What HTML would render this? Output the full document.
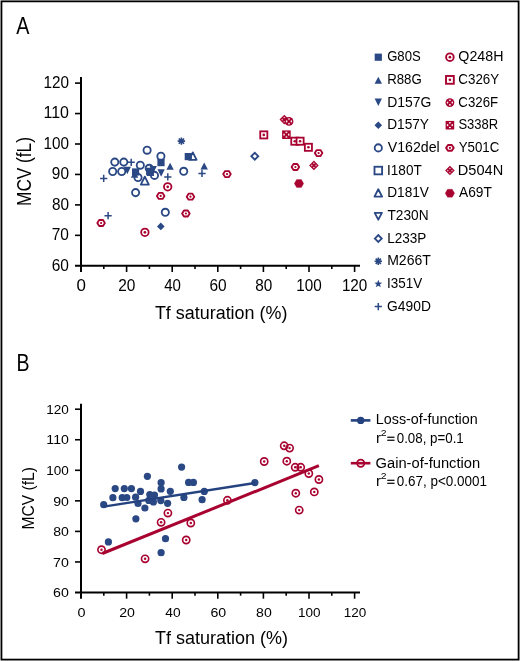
<!DOCTYPE html>
<html><head><meta charset="utf-8"><style>html,body{margin:0;padding:0;background:#fff;overflow:hidden;}svg{display:block;will-change:transform;}</style></head>
<body><svg width="520" height="661" viewBox="0 0 520 661" font-family="'Liberation Sans', sans-serif">
<rect width="520" height="661" fill="#fff"/>
<rect x="1.45" y="1.35" width="517.15" height="658.25" fill="none" stroke="#000" stroke-width="1.8"/>
<text x="16.16" y="33.90" font-size="23.4" textLength="13.18" lengthAdjust="spacingAndGlyphs" fill="#000">A</text>
<text x="16.50" y="370.70" font-size="23.9" textLength="13.03" lengthAdjust="spacingAndGlyphs" fill="#000">B</text>
<path d="M81,77.10V272.10" stroke="#000" stroke-width="2" fill="none"/><path d="M75,265.80H360" stroke="#000" stroke-width="2" fill="none"/><path d="M75,83.10H81" stroke="#000" stroke-width="1.6"/><text x="43.49" y="88.00" font-size="16.1" textLength="25.46" lengthAdjust="spacingAndGlyphs" fill="#000">120</text><path d="M75,113.55H81" stroke="#000" stroke-width="1.6"/><text x="43.49" y="118.45" font-size="16.1" textLength="25.46" lengthAdjust="spacingAndGlyphs" fill="#000">110</text><path d="M75,144.00H81" stroke="#000" stroke-width="1.6"/><text x="43.49" y="148.90" font-size="16.1" textLength="25.46" lengthAdjust="spacingAndGlyphs" fill="#000">100</text><path d="M75,174.45H81" stroke="#000" stroke-width="1.6"/><text x="51.83" y="179.35" font-size="16.1" textLength="17.12" lengthAdjust="spacingAndGlyphs" fill="#000">90</text><path d="M75,204.90H81" stroke="#000" stroke-width="1.6"/><text x="51.88" y="209.80" font-size="16.1" textLength="17.07" lengthAdjust="spacingAndGlyphs" fill="#000">80</text><path d="M75,235.35H81" stroke="#000" stroke-width="1.6"/><text x="51.76" y="240.25" font-size="16.1" textLength="17.20" lengthAdjust="spacingAndGlyphs" fill="#000">70</text><text x="51.77" y="270.70" font-size="16.1" textLength="17.19" lengthAdjust="spacingAndGlyphs" fill="#000">60</text><text x="76.59" y="291.40" font-size="16.1" textLength="9.42" lengthAdjust="spacingAndGlyphs" fill="#000">0</text><path d="M103.80,265.80V269.00" stroke="#000" stroke-width="1.6"/><path d="M126.60,265.80V272.00" stroke="#000" stroke-width="1.6"/><text x="118.22" y="291.40" font-size="16.1" textLength="17.18" lengthAdjust="spacingAndGlyphs" fill="#000">20</text><path d="M149.40,265.80V269.00" stroke="#000" stroke-width="1.6"/><path d="M172.20,265.80V272.00" stroke="#000" stroke-width="1.6"/><text x="164.25" y="291.40" font-size="16.1" textLength="16.73" lengthAdjust="spacingAndGlyphs" fill="#000">40</text><path d="M195.00,265.80V269.00" stroke="#000" stroke-width="1.6"/><path d="M217.80,265.80V272.00" stroke="#000" stroke-width="1.6"/><text x="209.42" y="291.40" font-size="16.1" textLength="17.19" lengthAdjust="spacingAndGlyphs" fill="#000">60</text><path d="M240.60,265.80V269.00" stroke="#000" stroke-width="1.6"/><path d="M263.40,265.80V272.00" stroke="#000" stroke-width="1.6"/><text x="255.13" y="291.40" font-size="16.1" textLength="17.07" lengthAdjust="spacingAndGlyphs" fill="#000">80</text><path d="M286.20,265.80V269.00" stroke="#000" stroke-width="1.6"/><path d="M309.00,265.80V272.00" stroke="#000" stroke-width="1.6"/><text x="296.29" y="291.40" font-size="16.1" textLength="25.46" lengthAdjust="spacingAndGlyphs" fill="#000">100</text><path d="M331.80,265.80V269.00" stroke="#000" stroke-width="1.6"/><path d="M354.60,265.80V272.00" stroke="#000" stroke-width="1.6"/><text x="341.89" y="291.40" font-size="16.1" textLength="25.46" lengthAdjust="spacingAndGlyphs" fill="#000">120</text>
<path d="M81,403.70V598.80" stroke="#000" stroke-width="2" fill="none"/><path d="M75,592.50H360" stroke="#000" stroke-width="2" fill="none"/><path d="M75,409.20H81" stroke="#000" stroke-width="1.6"/><text x="46.32" y="413.90" font-size="13.5" textLength="22.56" lengthAdjust="spacingAndGlyphs" fill="#000">120</text><path d="M75,439.75H81" stroke="#000" stroke-width="1.6"/><text x="46.32" y="444.45" font-size="13.5" textLength="22.56" lengthAdjust="spacingAndGlyphs" fill="#000">110</text><path d="M75,470.30H81" stroke="#000" stroke-width="1.6"/><text x="46.32" y="475.00" font-size="13.5" textLength="22.56" lengthAdjust="spacingAndGlyphs" fill="#000">100</text><path d="M75,500.85H81" stroke="#000" stroke-width="1.6"/><text x="53.19" y="505.55" font-size="13.5" textLength="15.71" lengthAdjust="spacingAndGlyphs" fill="#000">90</text><path d="M75,531.40H81" stroke="#000" stroke-width="1.6"/><text x="53.24" y="536.10" font-size="13.5" textLength="15.66" lengthAdjust="spacingAndGlyphs" fill="#000">80</text><path d="M75,561.95H81" stroke="#000" stroke-width="1.6"/><text x="53.12" y="566.65" font-size="13.5" textLength="15.78" lengthAdjust="spacingAndGlyphs" fill="#000">70</text><text x="53.13" y="597.20" font-size="13.5" textLength="15.77" lengthAdjust="spacingAndGlyphs" fill="#000">60</text><text x="77.59" y="616.70" font-size="13.5" textLength="8.03" lengthAdjust="spacingAndGlyphs" fill="#000">0</text><path d="M103.80,592.50V595.70" stroke="#000" stroke-width="1.6"/><path d="M126.60,592.50V598.70" stroke="#000" stroke-width="1.6"/><text x="119.24" y="616.70" font-size="13.5" textLength="15.77" lengthAdjust="spacingAndGlyphs" fill="#000">20</text><path d="M149.40,592.50V595.70" stroke="#000" stroke-width="1.6"/><path d="M172.20,592.50V598.70" stroke="#000" stroke-width="1.6"/><text x="165.23" y="616.70" font-size="13.5" textLength="15.36" lengthAdjust="spacingAndGlyphs" fill="#000">40</text><path d="M195.00,592.50V595.70" stroke="#000" stroke-width="1.6"/><path d="M217.80,592.50V598.70" stroke="#000" stroke-width="1.6"/><text x="210.43" y="616.70" font-size="13.5" textLength="15.77" lengthAdjust="spacingAndGlyphs" fill="#000">60</text><path d="M240.60,592.50V595.70" stroke="#000" stroke-width="1.6"/><path d="M263.40,592.50V598.70" stroke="#000" stroke-width="1.6"/><text x="256.14" y="616.70" font-size="13.5" textLength="15.66" lengthAdjust="spacingAndGlyphs" fill="#000">80</text><path d="M286.20,592.50V595.70" stroke="#000" stroke-width="1.6"/><path d="M309.00,592.50V598.70" stroke="#000" stroke-width="1.6"/><text x="298.07" y="616.70" font-size="13.5" textLength="22.56" lengthAdjust="spacingAndGlyphs" fill="#000">100</text><path d="M331.80,592.50V595.70" stroke="#000" stroke-width="1.6"/><path d="M354.60,592.50V598.70" stroke="#000" stroke-width="1.6"/><text x="343.67" y="616.70" font-size="13.5" textLength="22.56" lengthAdjust="spacingAndGlyphs" fill="#000">120</text>
<text x="154.90" y="318.90" font-size="19.2" textLength="132.51" lengthAdjust="spacingAndGlyphs" fill="#000">Tf saturation (%)</text>
<text x="154.90" y="643.50" font-size="19.0" textLength="133.02" lengthAdjust="spacingAndGlyphs" fill="#000">Tf saturation (%)</text>
<g transform="translate(31.00,204.50) rotate(-90)"><text x="-1.41" y="0.00" font-size="19.3" textLength="68.78" lengthAdjust="spacingAndGlyphs" fill="#000">MCV (fL)</text></g>
<g transform="translate(33.70,528.20) rotate(-90)"><text x="-1.28" y="0.00" font-size="17.0" textLength="62.45" lengthAdjust="spacingAndGlyphs" fill="#000">MCV (fL)</text></g>
<path d="M100.10,178.40H107.30M103.70,174.80V182.00" stroke="#2a4884" stroke-width="1.5" fill="none"/>
<circle cx="114.8" cy="162.1" r="3.6" fill="none" stroke="#2a4884" stroke-width="1.85"/>
<circle cx="123.8" cy="162.1" r="3.6" fill="none" stroke="#2a4884" stroke-width="1.85"/>
<path d="M127.60,162.30H134.80M131.20,158.70V165.90" stroke="#2a4884" stroke-width="1.5" fill="none"/>
<circle cx="140.3" cy="165.2" r="3.6" fill="none" stroke="#2a4884" stroke-width="1.85"/>
<circle cx="112.7" cy="171.5" r="3.6" fill="none" stroke="#2a4884" stroke-width="1.85"/>
<circle cx="121.7" cy="171.5" r="3.6" fill="none" stroke="#2a4884" stroke-width="1.85"/>
<path d="M123.65,166.80L127.30,174.20L130.95,166.80Z" fill="#2a4884"/>
<path d="M130.90,177.80L134.60,170.80L138.30,177.80Z" fill="#2a4884"/>
<rect x="132.00" y="168.40" width="7.2" height="7.2" fill="#2a4884"/>
<circle cx="138.0" cy="177.5" r="3.6" fill="none" stroke="#2a4884" stroke-width="1.85"/>
<path d="M140.80,184.60L144.80,176.60L148.80,184.60Z" fill="none" stroke="#2a4884" stroke-width="1.85" stroke-linejoin="round"/>
<circle cx="135.6" cy="192.6" r="3.6" fill="none" stroke="#2a4884" stroke-width="1.85"/>
<circle cx="147.1" cy="150.2" r="3.6" fill="none" stroke="#2a4884" stroke-width="1.85"/>
<path d="M177.70,141.10L185.10,141.10M178.78,138.48L184.02,143.72M181.40,137.40L181.40,144.80M184.02,138.48L178.78,143.72" stroke="#2a4884" stroke-width="1.6" fill="none"/><circle cx="181.4" cy="141.1" r="2" fill="#2a4884"/>
<circle cx="160.9" cy="156.2" r="3.6" fill="none" stroke="#2a4884" stroke-width="1.85"/>
<rect x="157.40" y="159.00" width="7.2" height="7.2" fill="#2a4884"/>
<path d="M166.40,169.70L170.10,162.70L173.80,169.70Z" fill="#2a4884"/>
<rect x="184.70" y="153.00" width="7.2" height="7.2" fill="#2a4884"/>
<path d="M189.00,159.80L192.80,152.40L196.60,159.80Z" fill="none" stroke="#2a4884" stroke-width="1.85" stroke-linejoin="round"/>
<circle cx="183.7" cy="171.3" r="3.6" fill="none" stroke="#2a4884" stroke-width="1.85"/>
<path d="M200.50,169.60L204.20,162.60L207.90,169.60Z" fill="#2a4884"/>
<path d="M198.40,173.40H205.60M202.00,169.80V177.00" stroke="#2a4884" stroke-width="1.5" fill="none"/>
<path d="M251.35,156.20L254.80,152.75L258.25,156.20L254.80,159.65Z" fill="none" stroke="#2a4884" stroke-width="1.85"/>
<path d="M104.50,215.70H111.70M108.10,212.10V219.30" stroke="#2a4884" stroke-width="1.5" fill="none"/>
<circle cx="165.3" cy="212.3" r="3.6" fill="none" stroke="#2a4884" stroke-width="1.85"/>
<path d="M157.00,226.40L160.80,222.60L164.60,226.40L160.80,230.20Z" fill="#2a4884"/>
<rect x="146.10" y="167.70" width="7.2" height="7.2" fill="#2a4884"/>
<rect x="146.70" y="168.80" width="7.2" height="7.2" fill="#2a4884"/>
<path d="M149.55,166.00L153.20,173.40L156.85,166.00Z" fill="#2a4884"/>
<circle cx="149.2" cy="168.3" r="3.6" fill="none" stroke="#2a4884" stroke-width="1.85"/>
<circle cx="154.5" cy="175.4" r="3.6" fill="none" stroke="#2a4884" stroke-width="1.85"/>
<path d="M157.45,169.30L161.10,176.70L164.75,169.30Z" fill="#2a4884"/>
<path d="M164.20,176.90H171.40M167.80,173.30V180.50" stroke="#2a4884" stroke-width="1.5" fill="none"/>
<polygon points="97.30,223.00 99.20,220.00 103.00,220.00 104.90,223.00 103.00,226.00 99.20,226.00" fill="#fff" stroke="#a80330" stroke-width="1.8" stroke-linejoin="round"/><circle cx="101.1" cy="223.0" r="1.1" fill="#a80330"/>
<circle cx="144.9" cy="232.3" r="3.75" fill="#fff" stroke="#a80330" stroke-width="1.8"/><circle cx="144.9" cy="232.3" r="1.35" fill="#a80330"/>
<polygon points="156.90,195.90 158.80,192.90 162.60,192.90 164.50,195.90 162.60,198.90 158.80,198.90" fill="#fff" stroke="#a80330" stroke-width="1.8" stroke-linejoin="round"/><circle cx="160.7" cy="195.9" r="1.1" fill="#a80330"/>
<circle cx="167.7" cy="186.8" r="3.75" fill="#fff" stroke="#a80330" stroke-width="1.8"/><circle cx="167.7" cy="186.8" r="1.35" fill="#a80330"/>
<polygon points="186.70,196.70 188.60,193.70 192.40,193.70 194.30,196.70 192.40,199.70 188.60,199.70" fill="#fff" stroke="#a80330" stroke-width="1.8" stroke-linejoin="round"/><circle cx="190.5" cy="196.7" r="1.1" fill="#a80330"/>
<polygon points="182.10,213.50 184.00,210.50 187.80,210.50 189.70,213.50 187.80,216.50 184.00,216.50" fill="#fff" stroke="#a80330" stroke-width="1.8" stroke-linejoin="round"/><circle cx="185.9" cy="213.5" r="1.1" fill="#a80330"/>
<polygon points="223.20,174.10 225.10,171.10 228.90,171.10 230.80,174.10 228.90,177.10 225.10,177.10" fill="#fff" stroke="#a80330" stroke-width="1.8" stroke-linejoin="round"/><circle cx="227.0" cy="174.1" r="1.1" fill="#a80330"/>
<rect x="260.25" y="131.35" width="7.1" height="7.1" fill="#fff" stroke="#a80330" stroke-width="1.8"/><circle cx="263.8" cy="134.9" r="1.3" fill="#a80330"/>
<rect x="282.10" y="130.40" width="8.6" height="8.6" fill="#a80330"/><ellipse cx="286.40" cy="132.35" rx="1.1" ry="0.8" fill="#fff" fill-opacity="0.92"/><ellipse cx="288.75" cy="134.70" rx="0.8" ry="1.1" fill="#fff" fill-opacity="0.92"/><ellipse cx="286.40" cy="137.05" rx="1.1" ry="0.8" fill="#fff" fill-opacity="0.92"/><ellipse cx="284.05" cy="134.70" rx="0.8" ry="1.1" fill="#fff" fill-opacity="0.92"/>
<rect x="291.25" y="137.65" width="7.1" height="7.1" fill="#fff" stroke="#a80330" stroke-width="1.8"/><circle cx="294.8" cy="141.2" r="1.3" fill="#a80330"/>
<rect x="296.55" y="137.65" width="7.1" height="7.1" fill="#fff" stroke="#a80330" stroke-width="1.8"/><circle cx="300.1" cy="141.2" r="1.3" fill="#a80330"/>
<rect x="304.85" y="143.75" width="7.1" height="7.1" fill="#fff" stroke="#a80330" stroke-width="1.8"/><circle cx="308.4" cy="147.3" r="1.3" fill="#a80330"/>
<polygon points="314.80,153.10 316.70,150.10 320.50,150.10 322.40,153.10 320.50,156.10 316.70,156.10" fill="#fff" stroke="#a80330" stroke-width="1.8" stroke-linejoin="round"/><circle cx="318.6" cy="153.1" r="1.1" fill="#a80330"/>
<polygon points="291.60,167.00 293.50,164.00 297.30,164.00 299.20,167.00 297.30,170.00 293.50,170.00" fill="#fff" stroke="#a80330" stroke-width="1.8" stroke-linejoin="round"/><circle cx="295.4" cy="167.0" r="1.1" fill="#a80330"/>
<path d="M309.10,165.40L313.90,160.60L318.70,165.40L313.90,170.20Z" fill="#a80330"/><ellipse cx="313.90" cy="163.30" rx="0.85" ry="0.7" fill="#fff" fill-opacity="0.75"/><ellipse cx="316.00" cy="165.40" rx="0.7" ry="0.85" fill="#fff" fill-opacity="0.75"/><ellipse cx="313.90" cy="167.50" rx="0.85" ry="0.7" fill="#fff" fill-opacity="0.75"/><ellipse cx="311.80" cy="165.40" rx="0.7" ry="0.85" fill="#fff" fill-opacity="0.75"/>
<polygon points="294.30,183.60 296.65,179.60 301.35,179.60 303.70,183.60 301.35,187.60 296.65,187.60" fill="#a80330" stroke="#a80330" stroke-width="0.3"/>
<path d="M279.50,119.60L284.30,114.80L289.10,119.60L284.30,124.40Z" fill="#a80330"/><ellipse cx="284.30" cy="117.50" rx="0.85" ry="0.7" fill="#fff" fill-opacity="0.75"/><ellipse cx="286.40" cy="119.60" rx="0.7" ry="0.85" fill="#fff" fill-opacity="0.75"/><ellipse cx="284.30" cy="121.70" rx="0.85" ry="0.7" fill="#fff" fill-opacity="0.75"/><ellipse cx="282.20" cy="119.60" rx="0.7" ry="0.85" fill="#fff" fill-opacity="0.75"/>
<circle cx="289.0" cy="121.4" r="4.4" fill="#a80330"/><ellipse cx="289.00" cy="119.05" rx="1.1" ry="0.8" fill="#fff" fill-opacity="0.92"/><ellipse cx="291.35" cy="121.40" rx="0.8" ry="1.1" fill="#fff" fill-opacity="0.92"/><ellipse cx="289.00" cy="123.75" rx="1.1" ry="0.8" fill="#fff" fill-opacity="0.92"/><ellipse cx="286.65" cy="121.40" rx="0.8" ry="1.1" fill="#fff" fill-opacity="0.92"/>
<rect x="374.70" y="53.60" width="7.2" height="7.2" fill="#2a4884"/>
<text x="387.14" y="61.45" font-size="14.6" textLength="33.56" lengthAdjust="spacingAndGlyphs" fill="#000">G80S</text>
<path d="M374.60,83.67L378.30,76.67L382.00,83.67Z" fill="#2a4884"/>
<text x="387.21" y="84.12" font-size="14.6" textLength="34.57" lengthAdjust="spacingAndGlyphs" fill="#000">R88G</text>
<path d="M374.65,98.54L378.30,105.94L381.95,98.54Z" fill="#2a4884"/>
<text x="387.16" y="106.79" font-size="14.6" textLength="44.19" lengthAdjust="spacingAndGlyphs" fill="#000">D157G</text>
<path d="M374.50,125.21L378.30,121.41L382.10,125.21L378.30,129.01Z" fill="#2a4884"/>
<text x="387.18" y="129.46" font-size="14.6" textLength="41.82" lengthAdjust="spacingAndGlyphs" fill="#000">D157Y</text>
<circle cx="378.3" cy="147.88" r="3.6" fill="none" stroke="#2a4884" stroke-width="1.85"/>
<text x="387.74" y="152.13" font-size="14.6" textLength="52.01" lengthAdjust="spacingAndGlyphs" fill="#000">V162del</text>
<rect x="374.50" y="166.75" width="7.6" height="7.6" fill="none" stroke="#2a4884" stroke-width="1.85"/>
<text x="387.05" y="174.80" font-size="14.6" textLength="34.66" lengthAdjust="spacingAndGlyphs" fill="#000">I180T</text>
<path d="M374.50,196.62L378.30,189.22L382.10,196.62Z" fill="none" stroke="#2a4884" stroke-width="1.85" stroke-linejoin="round"/>
<text x="387.18" y="197.47" font-size="14.6" textLength="41.78" lengthAdjust="spacingAndGlyphs" fill="#000">D181V</text>
<path d="M374.70,212.89L378.30,219.69L381.90,212.89Z" fill="none" stroke="#2a4884" stroke-width="1.85" stroke-linejoin="round"/>
<text x="387.49" y="220.14" font-size="14.6" textLength="41.13" lengthAdjust="spacingAndGlyphs" fill="#000">T230N</text>
<path d="M374.85,238.56L378.30,235.11L381.75,238.56L378.30,242.01Z" fill="none" stroke="#2a4884" stroke-width="1.85"/>
<text x="387.19" y="242.81" font-size="14.6" textLength="39.23" lengthAdjust="spacingAndGlyphs" fill="#000">L233P</text>
<path d="M374.60,261.23L382.00,261.23M375.68,258.61L380.92,263.85M378.30,257.53L378.30,264.93M380.92,258.61L375.68,263.85" stroke="#2a4884" stroke-width="1.6" fill="none"/><circle cx="378.3" cy="261.23" r="2" fill="#2a4884"/>
<text x="387.15" y="265.48" font-size="14.6" textLength="43.67" lengthAdjust="spacingAndGlyphs" fill="#000">M266T</text>
<polygon points="378.30,279.80 379.33,282.48 382.20,282.63 379.96,284.44 380.71,287.22 378.30,285.65 375.89,287.22 376.64,284.44 374.40,282.63 377.27,282.48" fill="#2a4884"/>
<text x="387.06" y="288.15" font-size="14.6" textLength="35.20" lengthAdjust="spacingAndGlyphs" fill="#000">I351V</text>
<path d="M374.70,306.57H381.90M378.30,302.97V310.17" stroke="#2a4884" stroke-width="1.5" fill="none"/>
<text x="387.10" y="310.82" font-size="14.6" textLength="43.86" lengthAdjust="spacingAndGlyphs" fill="#000">G490D</text>
<circle cx="449.9" cy="57.2" r="3.8" fill="#fff" stroke="#a80330" stroke-width="1.9"/><circle cx="449.9" cy="57.2" r="1.35" fill="#a80330"/>
<text x="458.33" y="61.45" font-size="14.6" textLength="45.14" lengthAdjust="spacingAndGlyphs" fill="#000">Q248H</text>
<rect x="446.00" y="75.97" width="7.8" height="7.8" fill="#fff" stroke="#a80330" stroke-width="1.9"/><circle cx="449.9" cy="79.87" r="1.3" fill="#a80330"/>
<text x="458.32" y="84.12" font-size="14.6" textLength="40.87" lengthAdjust="spacingAndGlyphs" fill="#000">C326Y</text>
<circle cx="449.9" cy="102.54" r="4.4" fill="#a80330"/><ellipse cx="449.90" cy="100.19" rx="1.1" ry="0.8" fill="#fff" fill-opacity="0.92"/><ellipse cx="452.25" cy="102.54" rx="0.8" ry="1.1" fill="#fff" fill-opacity="0.92"/><ellipse cx="449.90" cy="104.89" rx="1.1" ry="0.8" fill="#fff" fill-opacity="0.92"/><ellipse cx="447.55" cy="102.54" rx="0.8" ry="1.1" fill="#fff" fill-opacity="0.92"/>
<text x="458.33" y="106.79" font-size="14.6" textLength="39.80" lengthAdjust="spacingAndGlyphs" fill="#000">C326F</text>
<rect x="445.60" y="120.91" width="8.6" height="8.6" fill="#a80330"/><ellipse cx="449.90" cy="122.86" rx="1.1" ry="0.8" fill="#fff" fill-opacity="0.92"/><ellipse cx="452.25" cy="125.21" rx="0.8" ry="1.1" fill="#fff" fill-opacity="0.92"/><ellipse cx="449.90" cy="127.56" rx="1.1" ry="0.8" fill="#fff" fill-opacity="0.92"/><ellipse cx="447.55" cy="125.21" rx="0.8" ry="1.1" fill="#fff" fill-opacity="0.92"/>
<text x="458.41" y="129.46" font-size="14.6" textLength="39.79" lengthAdjust="spacingAndGlyphs" fill="#000">S338R</text>
<polygon points="446.10,147.88 448.00,144.98 451.80,144.98 453.70,147.88 451.80,150.78 448.00,150.78" fill="#fff" stroke="#a80330" stroke-width="1.9" stroke-linejoin="round"/><circle cx="449.9" cy="147.88" r="1.1" fill="#a80330"/>
<text x="458.71" y="152.13" font-size="14.6" textLength="40.60" lengthAdjust="spacingAndGlyphs" fill="#000">Y501C</text>
<path d="M445.10,170.55L449.90,165.75L454.70,170.55L449.90,175.35Z" fill="#a80330"/><ellipse cx="449.90" cy="168.45" rx="0.85" ry="0.7" fill="#fff" fill-opacity="0.75"/><ellipse cx="452.00" cy="170.55" rx="0.7" ry="0.85" fill="#fff" fill-opacity="0.75"/><ellipse cx="449.90" cy="172.65" rx="0.85" ry="0.7" fill="#fff" fill-opacity="0.75"/><ellipse cx="447.80" cy="170.55" rx="0.7" ry="0.85" fill="#fff" fill-opacity="0.75"/>
<text x="457.80" y="174.80" font-size="14.6" textLength="45.38" lengthAdjust="spacingAndGlyphs" fill="#000">D504N</text>
<polygon points="445.20,193.22 447.55,189.22 452.25,189.22 454.60,193.22 452.25,197.22 447.55,197.22" fill="#a80330" stroke="#a80330" stroke-width="0.3"/>
<text x="458.97" y="197.47" font-size="14.6" textLength="32.84" lengthAdjust="spacingAndGlyphs" fill="#000">A69T</text>
<circle cx="103.7" cy="504.7" r="3.6" fill="#2a4884"/>
<circle cx="115.2" cy="488.6" r="3.6" fill="#2a4884"/>
<circle cx="124.3" cy="488.6" r="3.6" fill="#2a4884"/>
<circle cx="131.4" cy="488.6" r="3.6" fill="#2a4884"/>
<circle cx="140.5" cy="491.4" r="3.6" fill="#2a4884"/>
<circle cx="112.9" cy="497.7" r="3.6" fill="#2a4884"/>
<circle cx="122.2" cy="497.7" r="3.6" fill="#2a4884"/>
<circle cx="126.8" cy="497.5" r="3.6" fill="#2a4884"/>
<circle cx="135.6" cy="497.2" r="3.6" fill="#2a4884"/>
<circle cx="138.0" cy="503.5" r="3.6" fill="#2a4884"/>
<circle cx="144.9" cy="508.0" r="3.6" fill="#2a4884"/>
<circle cx="135.9" cy="518.8" r="3.6" fill="#2a4884"/>
<circle cx="147.4" cy="476.3" r="3.6" fill="#2a4884"/>
<circle cx="181.6" cy="467.1" r="3.6" fill="#2a4884"/>
<circle cx="161.1" cy="482.7" r="3.6" fill="#2a4884"/>
<circle cx="161.1" cy="488.9" r="3.6" fill="#2a4884"/>
<circle cx="170.3" cy="491.3" r="3.6" fill="#2a4884"/>
<circle cx="188.6" cy="482.4" r="3.6" fill="#2a4884"/>
<circle cx="193.4" cy="482.4" r="3.6" fill="#2a4884"/>
<circle cx="183.9" cy="497.4" r="3.6" fill="#2a4884"/>
<circle cx="204.3" cy="491.4" r="3.6" fill="#2a4884"/>
<circle cx="202.1" cy="499.7" r="3.6" fill="#2a4884"/>
<circle cx="254.9" cy="482.6" r="3.6" fill="#2a4884"/>
<circle cx="108.4" cy="541.9" r="3.6" fill="#2a4884"/>
<circle cx="165.5" cy="538.7" r="3.6" fill="#2a4884"/>
<circle cx="161.1" cy="552.7" r="3.6" fill="#2a4884"/>
<circle cx="149.8" cy="494.6" r="3.6" fill="#2a4884"/>
<circle cx="154.5" cy="495.0" r="3.6" fill="#2a4884"/>
<circle cx="148.8" cy="500.4" r="3.6" fill="#2a4884"/>
<circle cx="153.4" cy="501.9" r="3.6" fill="#2a4884"/>
<circle cx="160.8" cy="500.6" r="3.6" fill="#2a4884"/>
<circle cx="167.6" cy="503.3" r="3.6" fill="#2a4884"/>
<circle cx="101.5" cy="549.7" r="3.6" fill="none" stroke="#a80330" stroke-width="1.65"/><circle cx="101.5" cy="549.7" r="1.2" fill="#a80330"/>
<circle cx="145.1" cy="558.8" r="3.6" fill="none" stroke="#a80330" stroke-width="1.65"/><circle cx="145.1" cy="558.8" r="1.2" fill="#a80330"/>
<circle cx="161.1" cy="522.3" r="3.6" fill="none" stroke="#a80330" stroke-width="1.65"/><circle cx="161.1" cy="522.3" r="1.2" fill="#a80330"/>
<circle cx="167.9" cy="513.1" r="3.6" fill="none" stroke="#a80330" stroke-width="1.65"/><circle cx="167.9" cy="513.1" r="1.2" fill="#a80330"/>
<circle cx="190.8" cy="523.0" r="3.6" fill="none" stroke="#a80330" stroke-width="1.65"/><circle cx="190.8" cy="523.0" r="1.2" fill="#a80330"/>
<circle cx="186.2" cy="540.0" r="3.6" fill="none" stroke="#a80330" stroke-width="1.65"/><circle cx="186.2" cy="540.0" r="1.2" fill="#a80330"/>
<circle cx="227.4" cy="500.3" r="3.6" fill="none" stroke="#a80330" stroke-width="1.65"/><circle cx="227.4" cy="500.3" r="1.2" fill="#a80330"/>
<circle cx="264.2" cy="461.5" r="3.6" fill="none" stroke="#a80330" stroke-width="1.65"/><circle cx="264.2" cy="461.5" r="1.2" fill="#a80330"/>
<circle cx="284.2" cy="445.8" r="3.6" fill="none" stroke="#a80330" stroke-width="1.65"/><circle cx="284.2" cy="445.8" r="1.2" fill="#a80330"/>
<circle cx="289.6" cy="448.1" r="3.6" fill="none" stroke="#a80330" stroke-width="1.65"/><circle cx="289.6" cy="448.1" r="1.2" fill="#a80330"/>
<circle cx="286.8" cy="461.2" r="3.6" fill="none" stroke="#a80330" stroke-width="1.65"/><circle cx="286.8" cy="461.2" r="1.2" fill="#a80330"/>
<circle cx="295.2" cy="467.3" r="3.6" fill="none" stroke="#a80330" stroke-width="1.65"/><circle cx="295.2" cy="467.3" r="1.2" fill="#a80330"/>
<circle cx="300.7" cy="467.3" r="3.6" fill="none" stroke="#a80330" stroke-width="1.65"/><circle cx="300.7" cy="467.3" r="1.2" fill="#a80330"/>
<circle cx="308.8" cy="473.5" r="3.6" fill="none" stroke="#a80330" stroke-width="1.65"/><circle cx="308.8" cy="473.5" r="1.2" fill="#a80330"/>
<circle cx="318.9" cy="479.5" r="3.6" fill="none" stroke="#a80330" stroke-width="1.65"/><circle cx="318.9" cy="479.5" r="1.2" fill="#a80330"/>
<circle cx="295.8" cy="493.2" r="3.6" fill="none" stroke="#a80330" stroke-width="1.65"/><circle cx="295.8" cy="493.2" r="1.2" fill="#a80330"/>
<circle cx="314.3" cy="491.9" r="3.6" fill="none" stroke="#a80330" stroke-width="1.65"/><circle cx="314.3" cy="491.9" r="1.2" fill="#a80330"/>
<circle cx="299.2" cy="510.1" r="3.6" fill="none" stroke="#a80330" stroke-width="1.65"/><circle cx="299.2" cy="510.1" r="1.2" fill="#a80330"/>
<path d="M103.7,506.6L254.9,483.0" stroke="#24427f" stroke-width="2.4" fill="none"/>
<path d="M102.3,553.5L318.9,465.7" stroke="#a80330" stroke-width="3" fill="none"/>
<path d="M350.8,420.4H370.4" stroke="#24427f" stroke-width="2.6"/><circle cx="360.7" cy="420.4" r="3.7" fill="#24427f"/>
<path d="M350.8,463.2H370.4" stroke="#a80330" stroke-width="2.6"/><circle cx="360.7" cy="463.2" r="3.6" fill="none" stroke="#a80330" stroke-width="1.8"/>
<text x="375.83" y="424.40" font-size="14.0" textLength="101.91" lengthAdjust="spacingAndGlyphs" fill="#000">Loss-of-function</text>
<text x="375.56" y="467.70" font-size="14.0" textLength="104.59" lengthAdjust="spacingAndGlyphs" fill="#000">Gain-of-function</text>
<text x="376.00" y="442.75" font-size="14.0" textLength="5.00" lengthAdjust="spacingAndGlyphs" fill="#000">r</text><text x="380.73" y="436.05" font-size="9.8" textLength="5.80" lengthAdjust="spacingAndGlyphs" fill="#000">2</text><rect x="387.25" y="436.65" width="7.25" height="1.2" fill="#000"/><rect x="387.25" y="439.65" width="7.25" height="1.2" fill="#000"/><text x="396.73" y="442.75" font-size="14.0" textLength="67.02" lengthAdjust="spacingAndGlyphs" fill="#000">0.08, p=0.1</text>
<text x="376.00" y="485.80" font-size="14.0" textLength="5.00" lengthAdjust="spacingAndGlyphs" fill="#000">r</text><text x="380.73" y="479.10" font-size="9.8" textLength="5.80" lengthAdjust="spacingAndGlyphs" fill="#000">2</text><rect x="387.25" y="479.70" width="7.25" height="1.2" fill="#000"/><rect x="387.25" y="482.70" width="7.25" height="1.2" fill="#000"/><text x="396.72" y="485.80" font-size="14.0" textLength="90.23" lengthAdjust="spacingAndGlyphs" fill="#000">0.67, p&lt;0.0001</text>
</svg></body></html>
